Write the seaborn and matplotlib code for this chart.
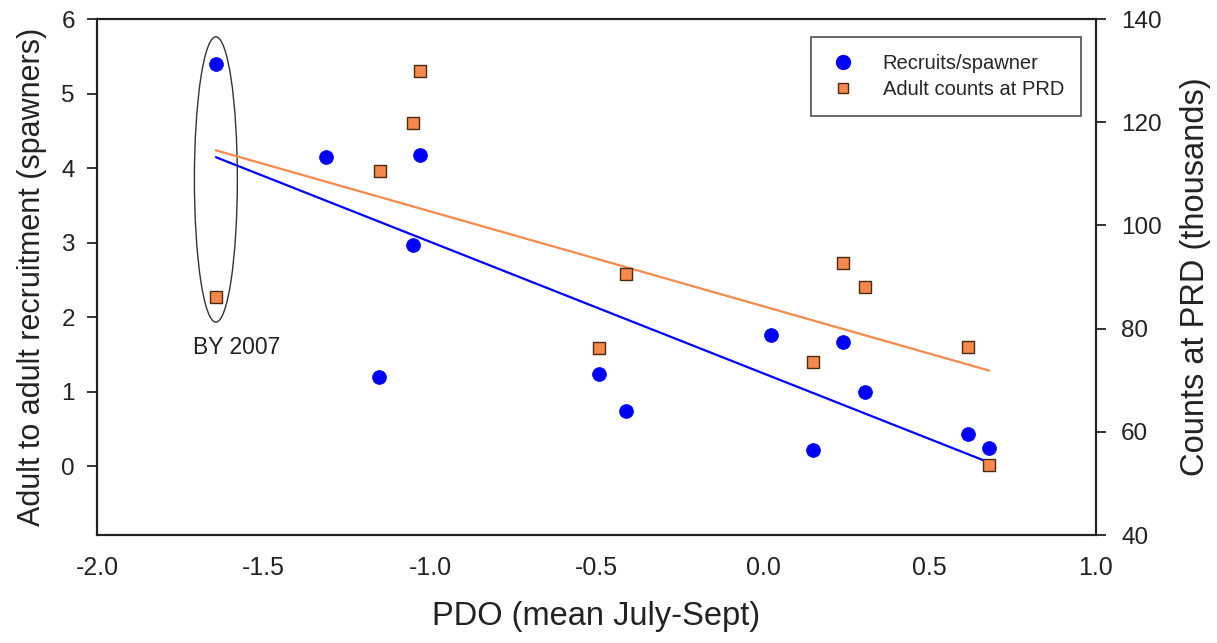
import numpy as np
import pandas as pd
import matplotlib
matplotlib.use("Agg")
import matplotlib.pyplot as plt
from matplotlib.patches import Ellipse
from matplotlib.lines import Line2D
import seaborn as sns

# ---- data ----
pdo_recruits = [-1.643, -1.312, -1.030, -1.051, -1.153, -0.492, -0.411, 0.024, 0.240, 0.150, 0.306, 0.616, 0.679]
recruits_per_spawner = [5.40, 4.15, 4.17, 2.97, 1.19, 1.23, 0.74, 1.76, 1.66, 0.21, 1.00, 0.43, 0.24]

pdo_counts = [-1.643, -1.150, -1.051, -1.030, -0.492, -0.411, 0.150, 0.240, 0.306, 0.616, 0.679]
adult_counts = [86.1, 110.5, 119.8, 129.9, 76.2, 90.6, 73.5, 92.7, 88.1, 76.4, 53.6]

x_ticks = [-2.0, -1.5, -1.0, -0.5, 0.0, 0.5, 1.0]
left_ticks = [0, 1, 2, 3, 4, 5, 6]
right_ticks = [40, 60, 80, 100, 120, 140]

BLUE = "#0000FF"
ORANGE = "#F5884A"
ORANGE_LINE = "#F58A4C"
TXT = "#222222"

sns.set_style("white")
plt.rcParams["font.family"] = ["Liberation Sans", "DejaVu Sans"]

df_r = pd.DataFrame({"pdo": pdo_recruits, "rs": recruits_per_spawner})
df_c = pd.DataFrame({"pdo": pdo_counts, "cnt": adult_counts})

fig = plt.figure(figsize=(12.17, 6.43), dpi=100)
ax = fig.add_axes([97/1217, 1-535/643, (1096-97)/1217, (535-19)/643])
ax2 = ax.twinx()

# regression lines
sns.regplot(data=df_r, x="pdo", y="rs", ax=ax, scatter=False, ci=None,
            truncate=True, line_kws=dict(color=BLUE, lw=1.6))
sns.regplot(data=df_c, x="pdo", y="cnt", ax=ax2, scatter=False, ci=None,
            truncate=True, line_kws=dict(color=ORANGE_LINE, lw=1.6))

sns.scatterplot(data=df_r, x="pdo", y="rs", ax=ax, color=BLUE, marker="o",
                s=100, edgecolor=BLUE, linewidth=0.5, zorder=4)
sns.scatterplot(data=df_c, x="pdo", y="cnt", ax=ax2, color=ORANGE, marker="s",
                s=70, edgecolor="#4a2a10", linewidth=1.0, zorder=4)

ax.set_xlim(-2.0, 1.0)
ax.set_ylim(-0.926, 6.0)
ax2.set_ylim(40, 140)

ax.set_xticks(x_ticks)
ax.set_xticklabels([f"{v:.1f}" for v in x_ticks])
ax.set_yticks(left_ticks)
ax2.set_yticks(right_ticks)

for a in (ax, ax2):
    for sp in a.spines.values():
        sp.set_linewidth(1.5)
        sp.set_color(TXT)

ax.tick_params(axis="both", direction="out", length=7, width=1.3, labelsize=17.5,
               colors=TXT)
ax.tick_params(axis="x", pad=8, labelsize=18)
ax.tick_params(axis="y", pad=9)
ax2.tick_params(axis="y", direction="out", length=7, width=1.3, labelsize=17.5,
                colors=TXT, pad=11)

ax.set_xlabel("PDO (mean July-Sept)", fontsize=23.5, labelpad=15, color=TXT)
ax.set_ylabel("Adult to adult recruitment (spawners)", fontsize=22, labelpad=10, color=TXT)
ax2.set_ylabel("Counts at PRD (thousands)", fontsize=23.5, labelpad=13, color=TXT)

# ellipse around BY 2007
ell = Ellipse((-1.643, 3.846), width=0.129, height=3.83, fill=False,
              edgecolor="#333333", lw=1.0, zorder=3)
ax.add_patch(ell)
ax.text(-1.58, 1.59, "BY 2007", fontsize=16.5, ha="center", va="center", color=TXT)

handles = [
    Line2D([], [], marker="o", color="none", markerfacecolor=BLUE, markeredgecolor=BLUE,
           markersize=10),
    Line2D([], [], marker="s", color="none", markerfacecolor=ORANGE, markeredgecolor="#4a2a10",
           markersize=7.5),
]
leg = ax.legend(handles, ["Recruits/spawner", "Adult counts at PRD"],
                loc="upper right", bbox_to_anchor=(0.985, 0.965), fontsize=14.5,
                frameon=True, fancybox=False, edgecolor=TXT,
                borderpad=0.85, handlelength=1.5, handletextpad=1.2,
                labelspacing=0.32, borderaxespad=0)
leg.get_frame().set_linewidth(1.2)
leg.set_zorder(10)

fig.savefig("out.png", dpi=100)
